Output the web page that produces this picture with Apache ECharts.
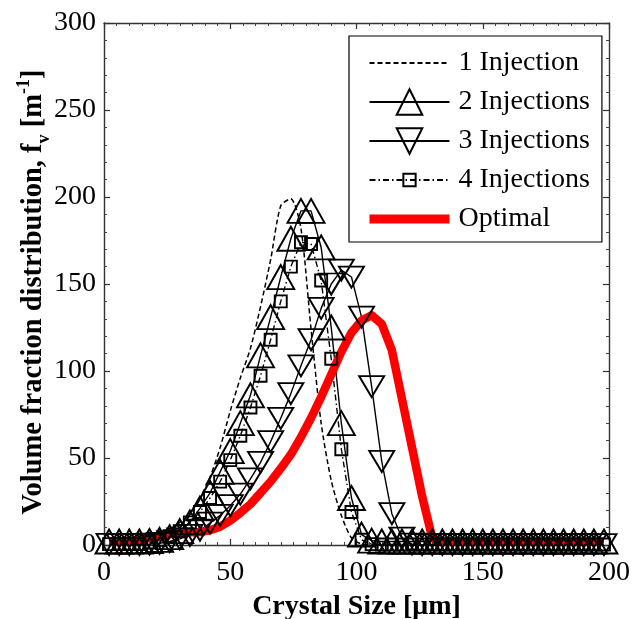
<!DOCTYPE html>
<html>
<head>
<meta charset="utf-8">
<script src="https://cdn.jsdelivr.net/npm/echarts@6/dist/echarts.min.js"></script>
<style>
  html, body { margin: 0; padding: 0; background: #fff; }
  #chart { width: 632px; height: 619px; }
</style>
</head>
<body>
<div id="chart"></div>
<script>
// Crystal size bin centres [µm]
const sizes = [2, 6, 10, 14, 18, 22, 26, 30, 34, 38, 42, 46, 50, 54, 58, 62, 66, 70, 74, 78,
  82, 86, 90, 94, 98, 102, 106, 110, 114, 118, 122, 126, 130, 134, 138, 142, 146, 150, 154, 158,
  162, 166, 170, 174, 178, 182, 186, 190, 194, 198];

// Volume fraction distributions f_v [1/m] for each seeding strategy
const oneInjection = [0.5, 1, 1.5, 2.5, 4, 6, 9, 13, 18, 27, 39, 56, 77, 96, 113, 137, 164, 195, 199, 182,
  124, 70, 37, 17, 4, 0.5, 0, 0, 0, 0, 0, 0, 0, 0, 0, 0, 0, 0, 0, 0,
  0, 0, 0, 0, 0, 0, 0, 0, 0, 0];
const twoInjections = [2, 2, 2, 2, 2.3, 3, 4.5, 8, 13, 21, 30, 42, 54, 70, 86, 109, 131, 154, 176, 192,
  192, 171, 125, 70, 27, 6, 2.5, 2, 2, 2, 2, 2, 2, 2, 2, 2, 2, 2, 2, 2,
  2, 2, 2, 2, 2, 2, 2, 2, 2, 2];
const threeInjections = [0.3, 0.3, 0.3, 0.3, 0.5, 1, 2, 3.5, 5.5, 8.5, 12.6, 17, 22.6, 29.3, 38, 47.5, 59.4, 72.8, 87, 103,
  118, 136, 150, 158, 154, 131, 91, 48, 18, 4, 0.5, 0.2, 0.2, 0.2, 0.2, 0.2, 0.2, 0.2, 0.2, 0.2,
  0.2, 0.2, 0.2, 0.2, 0.2, 0.2, 0.2, 0.2, 0.2, 0.2];
const fourInjections = [0.5, 0.5, 0.5, 0.5, 1.5, 3, 5, 8, 13, 19, 27, 36.4, 48.8, 62.8, 79, 97.3, 118, 140, 160, 174,
  173, 152, 107, 55, 19, 3, 0.5, 0.3, 0.3, 0.3, 0.3, 0.3, 0.3, 0.3, 0.3, 0.3, 0.3, 0.3, 0.3, 0.3,
  0.3, 0.3, 0.3, 0.3, 0.3, 0.3, 0.3, 0.3, 0.3, 0.3];
const optimal = [2, 2.2, 2.5, 3.2, 4, 5, 6.2, 7, 7.3, 7.5, 8.5, 10.5, 14, 18.5, 23.5, 30, 36.5, 44, 52, 62,
  73, 85, 98, 111, 122, 129, 132, 127, 112, 84, 56, 28, 4, 2, 2, 2, 2, 2, 2, 2,
  2, 2, 2, 2, 2, 2, 2, 2, 2, 2];

const seriesNames = ['1 Injection', '2 Injections', '3 Injections', '4 Injections', 'Optimal'];
const xTicks = { min: 0, max: 200, step: 50 };
const yTicks = { min: 0, max: 300, step: 50 };

const serif = "'Liberation Serif', 'Times New Roman', 'DejaVu Serif', serif";
const pairs = ys => sizes.map((x, i) => [x, ys[i]]);

// small open square inside a larger invisible box, so it keeps its size next to the triangles
const squareSymbol = 'path://M0,0M25,25M6.5,6.5L18.5,6.5L18.5,18.5L6.5,18.5Z';

const hollow = { color: 'rgba(0,0,0,0)', borderColor: '#000', borderWidth: 1.9 };

function frameAxis(extra) {
  return Object.assign({
    type: 'value',
    axisLine: { show: true, onZero: false, lineStyle: { color: '#333', width: 1.4 } },
    axisTick: { show: true, inside: true, length: 6, lineStyle: { color: '#333', width: 1.2 } },
    splitLine: { show: false }
  }, extra);
}

const chart = echarts.init(document.getElementById('chart'), null, { renderer: 'canvas' });

chart.setOption({
  animation: false,
  backgroundColor: '#fff',
  grid: { left: 104, right: 23, top: 23, bottom: 74, containLabel: false, outerBoundsMode: 'none' },
  xAxis: [
    frameAxis({
      position: 'bottom', min: xTicks.min, max: xTicks.max, interval: xTicks.step,
      minorTick: { show: true, splitNumber: 10, length: 3, lineStyle: { color: '#444', width: 1 } },
      axisLabel: { fontSize: 28, fontFamily: serif, color: '#000', margin: 14 },
      name: 'Crystal Size [\u03bcm]', nameLocation: 'middle', nameGap: 48, nameMoveOverlap: false,
      nameTextStyle: { fontSize: 28, fontFamily: serif, fontWeight: 'bold', color: '#000' }
    }),
    frameAxis({
      position: 'top', min: xTicks.min, max: xTicks.max, interval: xTicks.step,
      minorTick: { show: true, splitNumber: 10, length: 3, lineStyle: { color: '#444', width: 1 } },
      axisLabel: { show: false }
    })
  ],
  yAxis: [
    frameAxis({
      position: 'left', min: yTicks.min, max: yTicks.max, interval: yTicks.step,
      minorTick: { show: true, splitNumber: 5, length: 3, lineStyle: { color: '#444', width: 1 } },
      axisLabel: { fontSize: 28, fontFamily: serif, color: '#000', margin: 8 },
      name: '{t|Volume fraction distribution, f}{sub|v}{t| [m}{sup|-1}{t|]}',
      nameLocation: 'middle', nameGap: 51, nameRotate: 90, nameMoveOverlap: false,
      nameTextStyle: {
        fontFamily: serif, fontWeight: 'bold', color: '#000',
        padding: [0, 16, 0, 0],
        rich: {
          t: { fontSize: 28.5, fontFamily: serif, fontWeight: 'bold', color: '#000', lineHeight: 38, verticalAlign: 'middle' },
          sub: { fontSize: 18, fontFamily: serif, fontWeight: 'bold', color: '#000', lineHeight: 18, verticalAlign: 'bottom' },
          sup: { fontSize: 18, fontFamily: serif, fontWeight: 'bold', color: '#000', lineHeight: 18, verticalAlign: 'top' }
        }
      }
    }),
    frameAxis({
      position: 'right', min: yTicks.min, max: yTicks.max, interval: yTicks.step,
      minorTick: { show: true, splitNumber: 5, length: 3, lineStyle: { color: '#444', width: 1 } },
      axisLabel: { show: false }
    })
  ],
  legend: {
    orient: 'vertical', left: 349, top: 36,
    padding: [11, 12, 7, 16],
    itemWidth: 80, itemHeight: 32, itemGap: 7,
    borderColor: '#000', borderWidth: 1.2, backgroundColor: '#fff',
    textStyle: { fontSize: 28, lineHeight: 32, fontFamily: serif, color: '#000', padding: [0, 0, 0, 4] },
    data: [
      { name: seriesNames[0], itemStyle: { opacity: 0 } },
      { name: seriesNames[1] },
      { name: seriesNames[2] },
      { name: seriesNames[3] },
      { name: seriesNames[4], itemStyle: { opacity: 0 }, lineStyle: { width: 9, color: '#ff0000' } }
    ]
  },
  series: [
    {
      name: seriesNames[0], type: 'line', data: pairs(oneInjection),
      symbol: 'none', clip: false, smooth: 0.25,
      lineStyle: { color: '#000', width: 1.5, type: [5, 3] },
      itemStyle: { color: '#000' }
    },
    {
      name: seriesNames[1], type: 'line', data: pairs(twoInjections),
      symbol: 'triangle', symbolSize: [27, 24], showAllSymbol: true, clip: false,
      lineStyle: { color: '#000', width: 1.4 },
      itemStyle: hollow
    },
    {
      name: seriesNames[2], type: 'line', data: pairs(threeInjections),
      symbol: 'triangle', symbolRotate: 180, symbolSize: [25, 21], showAllSymbol: true, clip: false,
      lineStyle: { color: '#000', width: 1.4 },
      itemStyle: hollow
    },
    {
      name: seriesNames[3], type: 'line', data: pairs(fourInjections),
      symbol: squareSymbol, symbolSize: 25, showAllSymbol: true, clip: false,
      lineStyle: { color: '#000', width: 1.4, type: [6, 3, 1.5, 3] },
      itemStyle: hollow
    },
    {
      name: seriesNames[4], type: 'line', data: pairs(optimal),
      symbol: 'none', clip: false,
      lineStyle: { color: '#ff0000', width: 8.5, join: 'round' },
      itemStyle: { color: '#ff0000' }
    }
  ]
});
</script>
</body>
</html>
